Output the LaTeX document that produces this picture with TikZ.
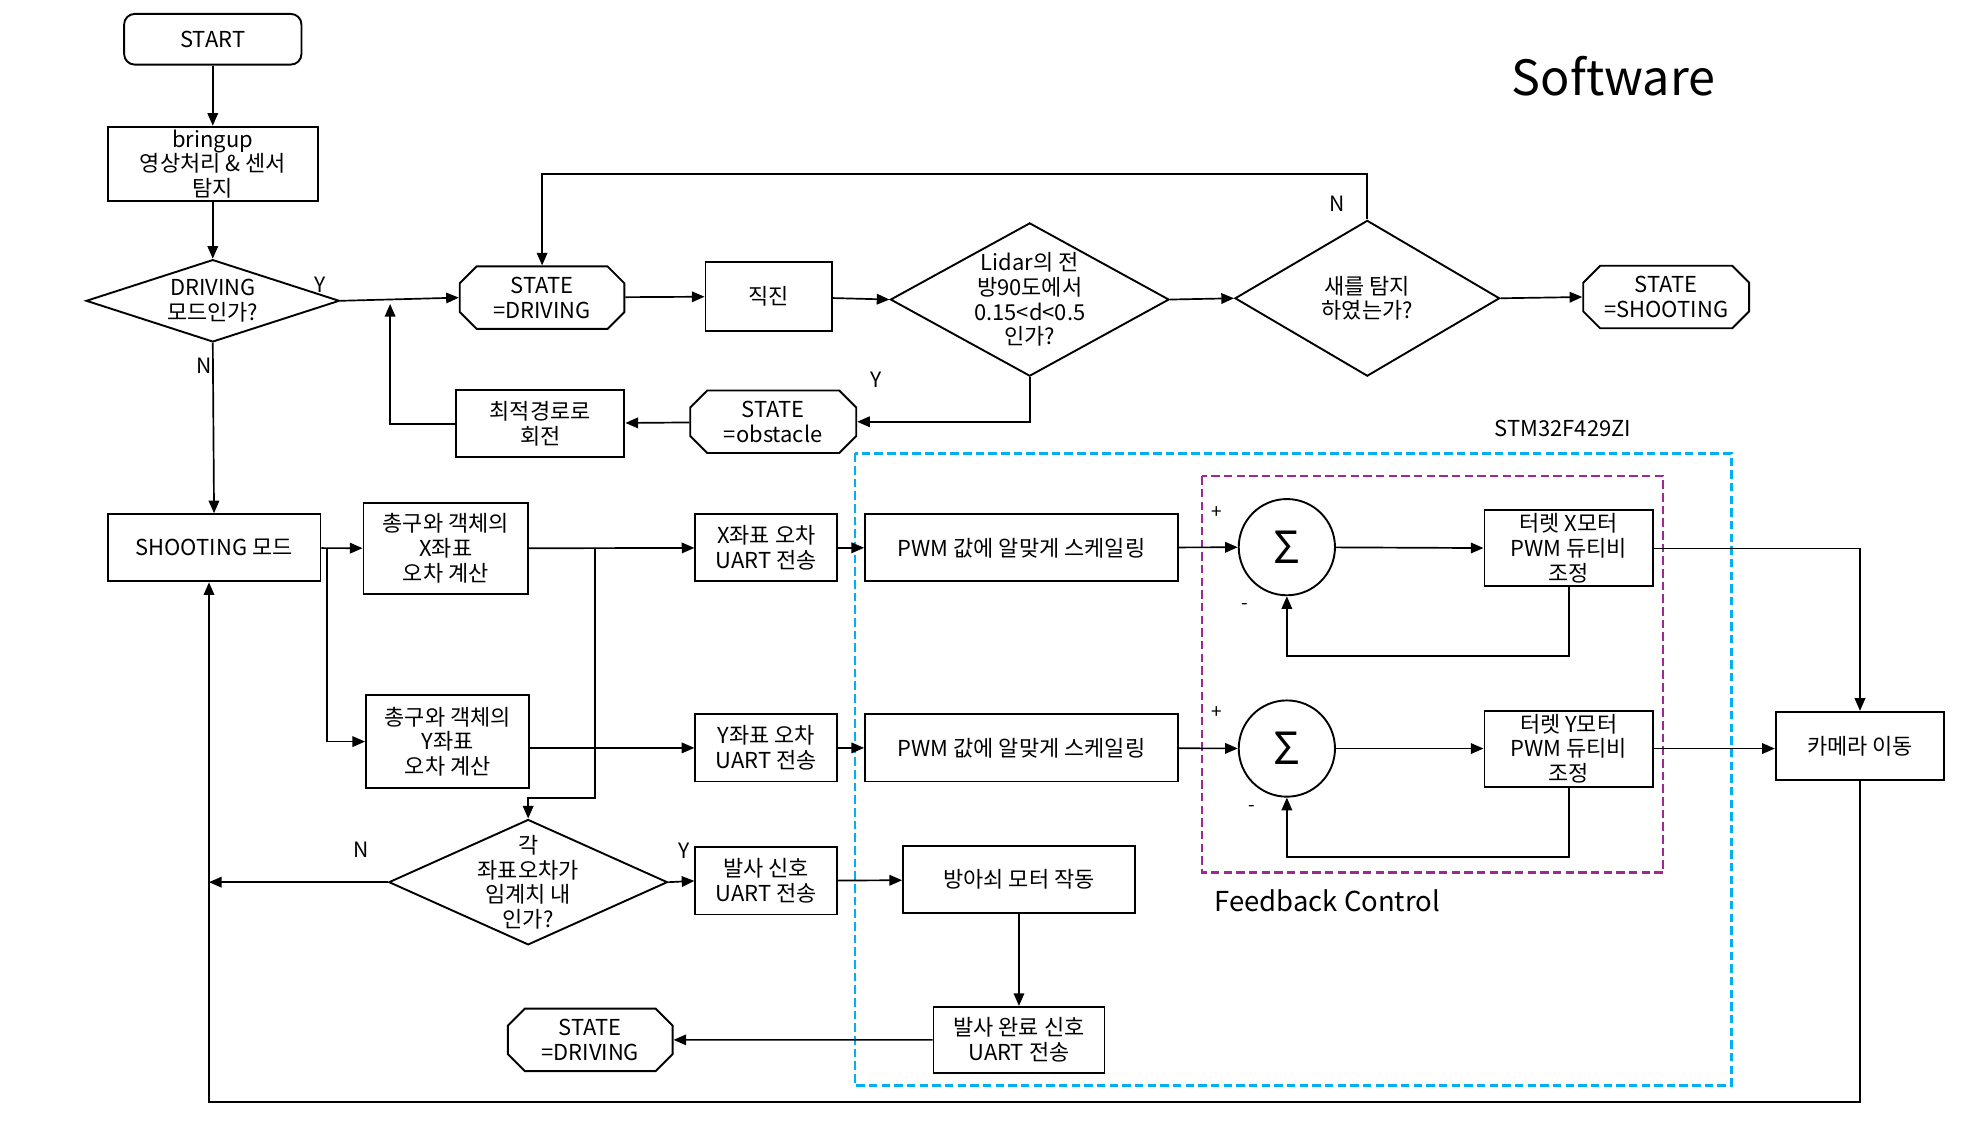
\documentclass[tikz,border=0pt]{standalone}
\usepackage{fontspec}
\setmainfont{Noto Sans CJK KR}
\usetikzlibrary{arrows.meta,shapes.geometric,shapes.misc,calc}

\def\pxU{0.6pt}

\begin{document}
\begin{tikzpicture}[x=0.6pt, y=-0.6pt, >={Triangle[length=6pt,width=5pt]},
    font=\fontsize{10.4}{11.7}\selectfont,
    box/.style={draw, line width=0.9pt, rectangle, align=center, inner sep=1pt},
    term/.style={box, rounded corners=5pt},
    statebox/.style={draw, line width=0.9pt, chamfered rectangle, chamfered rectangle xsep=4pt,
        chamfered rectangle ysep=4pt, align=center, inner sep=1pt},
    decision/.style={draw, line width=0.9pt, diamond, inner sep=0pt},
    sumnode/.style={draw, line width=0.9pt, circle, minimum size=76*\pxU, inner sep=0pt,
        font=\fontsize{21}{21}\selectfont},
    link/.style={->, line width=0.8pt},
    yn/.style={font=\fontsize{10}{11}\selectfont},
    sign/.style={font=\fontsize{9}{10}\selectfont}]
    % --- 1. Canvas ---
    \useasboundingbox (0,0) rectangle (1568,888);
    \node (title) at (1274,60) {\fontsize{23}{28}\selectfont Software};

    % --- 2. Driving part ---
    \node[term, minimum width=140*\pxU, minimum height=40*\pxU] (start) at (168,31) {START};
    \node[box, minimum width=166*\pxU, minimum height=59*\pxU] (bringup) at (168,129.5) {bringup\\영상처리 \& 센서\\탐지};
    \node[decision, minimum width=200*\pxU, minimum height=65*\pxU,
        label={[align=center]center:DRIVING\\모드인가?}] (drv) at (168,237.5) {};
    \node[statebox, minimum width=130*\pxU, minimum height=42*\pxU] (stDrv) at (428,235) {STATE\\=DRIVING};
    \node[box, minimum width=100*\pxU, minimum height=54*\pxU] (straight) at (607,234) {직진};
    \node[decision, minimum width=220*\pxU, minimum height=121*\pxU,
        label={[align=center]center:Lidar의 전\\방90도에서\\0.15<d<0.5\\인가?}] (lidar) at (813,236.5) {};
    \node[decision, minimum width=209*\pxU, minimum height=123*\pxU,
        label={[align=center]center:새를 탐지\\하였는가?}] (bird) at (1079.5,235.5) {};
    \node[statebox, minimum width=131*\pxU, minimum height=41*\pxU] (stShoot) at (1315.5,234.5) {STATE\\=SHOOTING};
    \node[statebox, minimum width=131*\pxU, minimum height=42*\pxU] (stObs) at (610.5,333) {STATE\\=obstacle};
    \node[box, minimum width=133*\pxU, minimum height=53*\pxU] (turn) at (426.5,334.5) {최적경로로\\회전};
    \coordinate (merge) at (308,240);

    \draw[link] (start) -- (bringup);
    \draw[link] (bringup) -- (drv);
    \draw[link] (drv.east) -- (stDrv.west);
    \draw[link] (bird.north) -- ++(0,-36) -| (stDrv);
    \draw[link] (stDrv) -- (straight);
    \draw[link] (straight) -- (lidar.west);
    \draw[link] (lidar.east) -- (bird.west);
    \draw[link] (bird.east) -- (stShoot.west);
    \draw[link] (lidar.south) |- (stObs.east);
    \draw[link] (stObs) -- (turn);
    \draw[link] (turn.west) -| (merge);
    \node[yn] (yDrv) at (253,225) {Y};
    \node[yn] (nDrv) at (161,289) {N};
    \node[yn] (nBird) at (1056,161) {N};
    \node[yn] (yLidar) at (692,300) {Y};

    % --- 3. Controller frames ---
    \draw[dashed, line width=1.2pt, dash pattern=on 4pt off 2pt, color={rgb,255:red,0;green,176;blue,240}]
        (675,358) rectangle (1367,857);
    \draw[dashed, line width=1.2pt, dash pattern=on 4pt off 2pt, color={rgb,255:red,160;green,40;blue,150}]
        (949,376) rectangle (1313,689);
    \node (mcu) at (1234,338) {STM32F429ZI};
    \node (fbc) at (1048,711) {\fontsize{13}{15}\selectfont Feedback Control};

    % --- 4. Shooting part ---
    \node[box, minimum width=168*\pxU, minimum height=53*\pxU] (shoot) at (169,432.5) {SHOOTING 모드};
    \node[box, minimum width=130*\pxU, minimum height=72*\pxU] (errX) at (352,433) {총구와 객체의\\X좌표\\오차 계산};
    \node[box, minimum width=129*\pxU, minimum height=73*\pxU] (errY) at (353.5,585.5) {총구와 객체의\\Y좌표\\오차 계산};
    \node[box, minimum width=112*\pxU, minimum height=53*\pxU] (uartX) at (605,432.5) {X좌표 오차\\UART 전송};
    \node[box, minimum width=112*\pxU, minimum height=53*\pxU] (uartY) at (605,590.5) {Y좌표 오차\\UART 전송};
    \node[box, minimum width=247*\pxU, minimum height=53*\pxU] (pwmX) at (806.5,432.5) {PWM 값에 알맞게 스케일링};
    \node[box, minimum width=247*\pxU, minimum height=53*\pxU] (pwmY) at (806.5,590.5) {PWM 값에 알맞게 스케일링};
    \node[sumnode] (sumX) at (1016,432) {Σ};
    \node[sumnode] (sumY) at (1016,591) {Σ};
    \node[box, minimum width=133*\pxU, minimum height=60*\pxU] (motX) at (1238.5,433) {터렛 X모터\\PWM 듀티비\\조정};
    \node[box, minimum width=133*\pxU, minimum height=60*\pxU] (motY) at (1238.5,591) {터렛 Y모터\\PWM 듀티비\\조정};
    \node[box, minimum width=133*\pxU, minimum height=54*\pxU] (cam) at (1468.5,589) {카메라 이동};
    \node[decision, minimum width=220*\pxU, minimum height=99*\pxU,
        label={[align=center]center:각\\좌표오차가\\임계치 내\\인가?}] (thr) at (417,696.5) {};
    \node[box, minimum width=112*\pxU, minimum height=53*\pxU] (fire) at (605,695.5) {발사 신호\\UART 전송};
    \node[box, minimum width=183*\pxU, minimum height=53*\pxU] (trig) at (804.5,694.5) {방아쇠 모터 작동};
    \node[box, minimum width=135*\pxU, minimum height=52*\pxU] (done) at (804.5,821) {발사 완료 신호\\UART 전송};
    \node[statebox, minimum width=130*\pxU, minimum height=42*\pxU] (stDrv2) at (466,821) {STATE\\=DRIVING};
    \coordinate (brY) at (258,432.5);
    \coordinate (brT) at (470,433);
    \coordinate (back) at (165,870);

    \draw[link] (drv.south) -- (shoot.north);
    \draw[link] (shoot) -- (errX);
    \draw[link] (brY) |- (errY.west);
    \draw[link] (errX) -- (uartX);
    \draw[link] (brT) -- ++(0,197) -| (thr.north);
    \draw[link] (errY.east |- uartY) -- (uartY.west);
    \draw[link] (uartX) -- (pwmX);
    \draw[link] (uartY) -- (pwmY);
    \draw[link] (pwmX) -- (sumX);
    \draw[link] (pwmY) -- (sumY);
    \draw[link] (sumX) -- (motX);
    \draw[link] (sumY) -- (motY);
    \draw[link] (motX.south) -- ++(0,54) -| (sumX.south);
    \draw[link] (motY.south) -- ++(0,55) -| (sumY.south);
    \draw[link] (motX.east) -| (cam.north);
    \draw[link] (motY.east) -- (motY.east -| cam.west);
    \draw[link] (cam.south) |- (back) -- (back |- shoot.south);
    \draw[link] (thr.west) -- (thr.west -| back);
    \draw[link] (thr.east) -- (fire.west);
    \draw[link] (fire) -- (trig);
    \draw[link] (trig) -- (done);
    \draw[link] (done) -- (stDrv2);
    \node[sign] (pX) at (961,405) {+};
    \node[sign] (mX) at (983,479) {-};
    \node[sign] (pY) at (961,563) {+};
    \node[sign] (mY) at (988,638) {-};
    \node[yn] (nThr) at (285,671) {N};
    \node[yn] (yThr) at (540,672) {Y};
\end{tikzpicture}
\end{document}
